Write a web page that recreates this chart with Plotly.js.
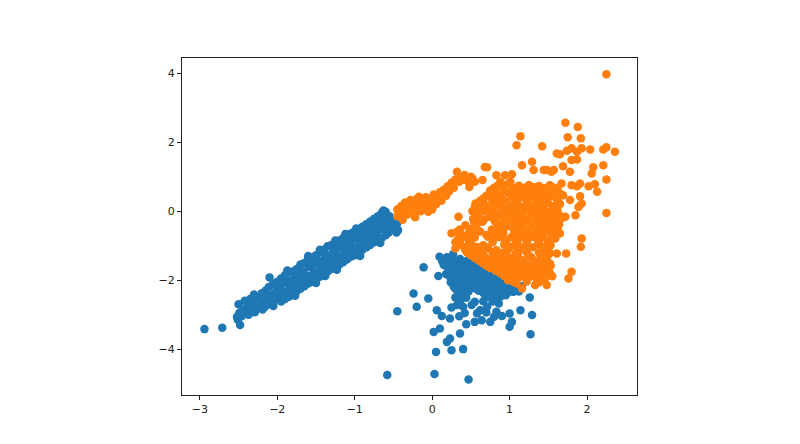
<!DOCTYPE html>
<html>
<head>
<meta charset="utf-8">
<script src="https://cdn.plot.ly/plotly-3.0.1.min.js"></script>
<style>html,body{margin:0;padding:0;background:#fff;}#chart{width:800px;height:444px;}</style>
</head>
<body>
<div id="chart"></div>
<script>
// ---- data: class 0 (blue) ----
const blueTail = [[-2.94,-3.42],[-2.71,-3.38],[-2.48,-3.30],[-2.52,-3.06]];
const blueBand = [
[-2.50,-2.70],[-2.49,-2.95],[-2.51,-3.15],
[-2.45,-2.85],[-2.46,-3.05],
[-2.42,-2.60],[-2.41,-2.88],
[-2.38,-2.75],[-2.37,-3.00],
[-2.35,-2.55],[-2.34,-2.84],
[-2.30,-2.42],[-2.31,-2.68],[-2.29,-2.93],
[-2.25,-2.55],[-2.24,-2.80],
[-2.20,-2.38],[-2.21,-2.62],[-2.19,-2.85],
[-2.15,-2.30],[-2.14,-2.55],[-2.16,-2.78],
[-2.10,-1.92],[-2.11,-2.20],[-2.09,-2.45],[-2.10,-2.70],
[-2.05,-2.10],[-2.04,-2.38],[-2.06,-2.65],
[-2.00,-2.05],[-2.01,-2.30],[-1.99,-2.55],
[-1.95,-1.95],[-1.96,-2.20],[-1.94,-2.45],[-1.95,-2.62],
[-1.90,-1.85],[-1.89,-2.10],[-1.91,-2.35],[-1.90,-2.55],
[-1.85,-1.78],[-1.86,-2.02],[-1.84,-2.28],[-1.85,-2.48],
[-1.80,-1.75],[-1.79,-1.98],[-1.81,-2.20],[-1.80,-2.40],
[-1.75,-1.68],[-1.76,-1.90],[-1.74,-2.12],[-1.75,-2.32],
[-1.70,-1.55],[-1.69,-1.82],[-1.71,-2.05],[-1.70,-2.25],
[-1.65,-1.50],[-1.66,-1.75],[-1.64,-1.98],[-1.65,-2.18],
[-1.60,-1.38],[-1.59,-1.62],[-1.61,-1.88],[-1.60,-2.10],
[-1.55,-1.35],[-1.56,-1.58],[-1.54,-1.82],[-1.55,-2.05],
[-1.50,-1.28],[-1.49,-1.50],[-1.51,-1.75],[-1.50,-1.98],
[-1.45,-1.20],[-1.46,-1.45],[-1.44,-1.68],[-1.45,-1.90],
[-1.40,-1.12],[-1.39,-1.38],[-1.41,-1.60],[-1.40,-1.82],
[-1.35,-1.02],[-1.36,-1.28],[-1.34,-1.52],[-1.35,-1.75],
[-1.30,-0.98],[-1.29,-1.22],[-1.31,-1.45],[-1.30,-1.68],
[-1.25,-0.92],[-1.26,-1.15],[-1.24,-1.38],[-1.25,-1.62],
[-1.20,-0.85],[-1.19,-1.08],[-1.21,-1.32],[-1.20,-1.55],
[-1.15,-0.78],[-1.16,-1.00],[-1.14,-1.25],[-1.15,-1.48],
[-1.10,-0.72],[-1.09,-0.95],[-1.11,-1.18],[-1.10,-1.40],
[-1.05,-0.65],[-1.06,-0.88],[-1.04,-1.10],[-1.05,-1.32],
[-1.00,-0.58],[-0.99,-0.80],[-1.01,-1.05],[-1.00,-1.28],
[-0.95,-0.52],[-0.96,-0.75],[-0.94,-0.98],[-0.95,-1.20],
[-0.90,-0.45],[-0.89,-0.68],[-0.91,-0.90],[-0.90,-1.12],
[-0.85,-0.38],[-0.86,-0.60],[-0.84,-0.82],[-0.85,-1.05],
[-0.80,-0.30],[-0.79,-0.52],[-0.81,-0.75],[-0.80,-0.98],
[-0.75,-0.22],[-0.76,-0.45],[-0.74,-0.68],[-0.75,-0.90],
[-0.70,-0.15],[-0.69,-0.38],[-0.71,-0.60],[-0.70,-0.85],
[-0.65,-0.05],[-0.66,-0.30],[-0.64,-0.52],[-0.65,-0.78],
[-0.60,-0.02],[-0.59,-0.22],[-0.61,-0.45],[-0.60,-0.70],
[-0.55,-0.15],[-0.54,-0.38],[-0.56,-0.62],
[-0.50,-0.25],[-0.49,-0.50],
[-0.45,-0.35],[-0.44,-0.55]
];
const blueEdge = [
[-1.87,-1.72],[-1.60,-1.30],[-1.25,-0.85],[-0.98,-0.50],[-0.63,0.02],[-1.45,-1.12],[-1.12,-0.66],
[-1.77,-2.45],[-1.50,-2.08],[-1.23,-1.70],[-0.93,-1.30],[-0.67,-0.92],[-0.46,-0.62],[-2.05,-2.75],[-1.38,-1.88]
];
const blueBlob = [
[-0.58,-4.75],[0.03,-4.72],[0.47,-4.88],
[0.05,-4.08],[0.25,-4.03],[0.40,-4.00],
[0.19,-3.79],[0.23,-3.69],[0.36,-3.55],[0.02,-3.50],[0.10,-3.40],
[1.27,-3.57],[1.00,-3.35],[1.03,-3.21],
[-0.45,-2.90],[-0.20,-2.77],[-0.24,-2.39],[-0.05,-2.53],
[-0.11,-1.63],[0.08,-1.88],
[0.06,-2.87],[0.125,-3.04],[0.23,-3.11],
[0.44,-3.28],[0.55,-3.21],[0.64,-3.16],[0.75,-3.21],
[0.83,-2.92],[0.86,-2.68],[0.88,-2.48],
[1.00,-2.97],[1.14,-2.87],[1.26,-2.50],[1.29,-3.01],
[1.05,-2.34],[1.14,-2.27],
[0.62,-2.87],[0.71,-2.77],[0.51,-2.72],[0.40,-2.77],[0.32,-2.72],[0.25,-2.79],
[0.095,-1.32],[0.19,-1.34],[0.27,-1.25],
[0.18,-1.40],[0.28,-1.41],[0.36,-1.39],
[0.22,-1.50],[0.32,-1.52],[0.42,-1.49],[0.50,-1.51],
[0.20,-1.62],[0.30,-1.63],[0.40,-1.61],[0.50,-1.62],[0.60,-1.60],
[0.26,-1.75],[0.36,-1.76],[0.46,-1.74],[0.56,-1.75],[0.66,-1.73],
[0.22,-1.88],[0.32,-1.89],[0.44,-1.87],[0.54,-1.88],[0.64,-1.86],[0.74,-1.88],
[0.30,-2.00],[0.40,-2.01],[0.52,-1.99],[0.62,-2.00],[0.72,-2.02],[0.84,-2.00],
[0.34,-2.12],[0.46,-2.13],[0.58,-2.11],[0.70,-2.12],[0.80,-2.10],[0.92,-2.12],[1.02,-2.14],
[0.30,-2.25],[0.42,-2.26],[0.56,-2.24],[0.68,-2.25],[0.78,-2.26],[0.90,-2.24],[1.00,-2.25],[1.10,-2.23],
[0.38,-2.38],[0.66,-2.37],[0.76,-2.39],[0.88,-2.38],[0.98,-2.36],
[0.30,-2.50],[0.44,-2.51],[0.70,-2.49],[0.80,-2.52],
[0.36,-2.62],[0.55,-2.63],[0.66,-2.61],[0.78,-2.62],
[0.42,-2.95],[0.58,-2.96],[0.70,-2.94],
[0.35,-3.05],[0.80,-3.06],[0.90,-3.04]
];
const blueFill = [
[0.13,-1.45],[0.24,-1.46],[0.45,-1.44],
[0.15,-1.56],[0.27,-1.57],[0.37,-1.55],[0.46,-1.56],[0.55,-1.57],
[0.22,-1.69],[0.33,-1.70],[0.43,-1.68],[0.53,-1.69],[0.62,-1.70],[0.71,-1.68],
[0.18,-1.82],[0.29,-1.83],[0.40,-1.81],[0.50,-1.82],[0.60,-1.83],[0.70,-1.81],[0.80,-1.82],
[0.26,-1.94],[0.37,-1.95],[0.48,-1.93],[0.58,-1.94],[0.68,-1.95],[0.79,-1.93],[0.89,-1.94],
[0.24,-2.06],[0.36,-2.07],[0.46,-2.05],[0.57,-2.06],[0.67,-2.07],[0.78,-2.05],[0.88,-2.06],[0.98,-2.07],
[0.28,-2.19],[0.40,-2.20],[0.52,-2.18],[0.63,-2.19],[0.74,-2.20],[0.86,-2.18],[0.96,-2.19],[1.06,-2.20],[1.16,-2.18],
[0.33,-2.32],[0.47,-2.33],[0.60,-2.31],[0.72,-2.32],[0.83,-2.33],[0.94,-2.31],[1.04,-2.32],[1.12,-2.33],
[0.34,-2.44],[0.74,-2.45],[0.84,-2.43],[0.95,-2.44]
];
// ---- data: class 1 (orange) ----
const orangeStreak = [
[-0.45,-0.15],[-0.45,0.05],[-0.40,-0.05],[-0.40,0.15],[-0.38,-0.25],[-0.35,0.05],[-0.35,0.25],
[-0.32,-0.10],[-0.30,0.15],[-0.28,0.32],[-0.25,-0.05],[-0.25,0.20],[-0.22,-0.18],[-0.20,0.10],
[-0.20,0.35],[-0.17,0.42],[-0.15,0.00],[-0.15,0.22],[-0.12,0.30],[-0.10,0.10],[-0.08,0.40],
[-0.05,0.18],[-0.05,-0.02],[0.00,0.30],[0.00,0.05],[0.02,0.48],[0.05,0.20],[0.08,0.38],
[0.10,0.55],[0.12,0.30],[0.15,0.62],[0.18,0.45],[0.20,0.72],[0.22,0.58],[0.25,0.82],
[0.28,0.68],[0.30,0.92],[0.32,1.14],[0.35,0.85],[0.38,1.00],[0.40,0.92],[0.42,1.05],
[0.45,0.88],[0.48,0.70],[0.50,1.00],[0.52,0.95],[0.55,0.85],[0.65,0.90],[0.68,1.28]
];
const orangeCore = [
[0.85,0.75],[0.97,0.77],[1.12,0.74],[1.25,0.76],[1.38,0.73],[1.52,0.75],
[0.75,0.60],[0.92,0.62],[1.05,0.59],[1.18,0.61],[1.30,0.58],[1.45,0.60],[1.62,0.62],
[0.70,0.45],[0.88,0.44],[1.02,0.47],[1.16,0.44],[1.29,0.46],[1.41,0.43],[1.54,0.45],
[0.62,0.30],[0.82,0.31],[0.96,0.28],[1.10,0.31],[1.23,0.29],[1.36,0.30],[1.48,0.28],[1.62,0.31],
[0.58,0.15],[0.72,0.16],[0.88,0.14],[1.03,0.16],[1.17,0.13],[1.30,0.15],[1.43,0.16],[1.57,0.14],
[0.52,0.00],[0.66,0.01],[0.80,-0.02],[0.95,0.01],[1.09,-0.01],[1.22,0.02],[1.36,0.00],[1.50,-0.02],[1.62,0.01],
[0.59,-0.14],[0.73,-0.16],[0.87,-0.15],[1.02,-0.13],[1.15,-0.16],[1.29,-0.15],[1.43,-0.14],[1.56,-0.16],[1.66,-0.15],
[0.54,-0.30],[0.65,-0.31],[0.81,-0.29],[0.95,-0.30],[1.09,-0.31],[1.23,-0.29],[1.37,-0.30],[1.50,-0.31],[1.62,-0.29],
[0.55,-0.44],[0.85,-0.45],[1.00,-0.44],[1.15,-0.46],[1.30,-0.45],[1.45,-0.44],[1.58,-0.46],
[0.32,-0.60],[0.48,-0.61],[0.62,-0.59],[0.78,-0.60],[0.92,-0.61],[1.06,-0.59],[1.20,-0.60],[1.35,-0.61],[1.48,-0.59],[1.60,-0.60],
[0.40,-0.75],[0.55,-0.76],[0.72,-0.74],[0.87,-0.75],[1.02,-0.76],[1.15,-0.74],[1.28,-0.75],[1.42,-0.76],[1.55,-0.74],
[0.30,-0.90],[0.48,-0.91],[0.78,-0.90],[0.95,-0.91],[1.10,-0.89],[1.22,-0.90],[1.38,-0.91],[1.50,-0.89],
[0.42,-1.05],[0.58,-1.04],[0.72,-1.06],[1.00,-1.04],[1.15,-1.06],[1.30,-1.05],[1.45,-1.04],
[0.45,-1.20],[0.60,-1.21],[0.78,-1.19],[0.92,-1.20],[1.08,-1.21],[1.22,-1.19],[1.38,-1.20],[1.52,-1.21],
[0.55,-1.35],[0.70,-1.36],[0.85,-1.34],[1.00,-1.35],[1.12,-1.36],[1.28,-1.34],[1.42,-1.35],
[0.65,-1.50],[0.80,-1.51],[0.95,-1.49],[1.08,-1.50],[1.20,-1.51],[1.35,-1.49],[1.50,-1.50],
[0.75,-1.65],[0.90,-1.66],[1.02,-1.64],[1.15,-1.65],[1.30,-1.66],[1.45,-1.64],
[0.88,-1.80],[1.00,-1.81],[1.12,-1.79],[1.25,-1.80],[1.38,-1.81],[1.52,-1.79],
[0.98,-1.95],[1.10,-1.96],[1.22,-1.94],[1.35,-1.95],[1.45,-1.96]
];
const orangeFill = [
[0.80,0.68],[0.92,0.69],[1.05,0.67],[1.19,0.68],[1.32,0.69],[1.45,0.67],[1.58,0.68],
[0.82,0.52],[0.98,0.53],[1.11,0.51],[1.24,0.52],[1.37,0.53],[1.52,0.51],[1.64,0.52],
[0.66,0.37],[0.76,0.38],[0.90,0.36],[1.06,0.37],[1.19,0.38],[1.33,0.36],[1.46,0.37],[1.60,0.38],
[0.56,0.22],[0.66,0.23],[0.80,0.21],[0.95,0.22],[1.09,0.23],[1.23,0.21],[1.37,0.22],[1.50,0.23],[1.65,0.21],
[0.57,0.07],[0.73,0.08],[1.01,0.06],[1.15,0.07],[1.29,0.08],[1.43,0.06],[1.56,0.07],
[0.60,-0.07],[0.74,-0.09],[0.88,-0.08],[1.02,-0.07],[1.16,-0.09],[1.29,-0.08],[1.44,-0.07],[1.57,-0.09],
[0.53,-0.22],[0.67,-0.24],[0.80,-0.23],[0.95,-0.22],[1.08,-0.24],[1.22,-0.23],[1.36,-0.22],[1.49,-0.24],[1.62,-0.23],
[0.58,-0.37],[0.88,-0.39],[1.02,-0.38],[1.16,-0.37],[1.30,-0.39],[1.44,-0.38],[1.56,-0.37],[1.64,-0.39],
[0.36,-0.53],[0.49,-0.52],[0.77,-0.53],[0.92,-0.52],[1.07,-0.54],[1.22,-0.53],[1.37,-0.52],[1.52,-0.54],[1.62,-0.53],
[0.38,-0.68],[0.55,-0.67],[0.70,-0.69],[0.84,-0.68],[1.13,-0.69],[1.27,-0.68],[1.42,-0.67],[1.55,-0.69],
[0.33,-0.83],[0.47,-0.82],[0.79,-0.83],[0.94,-0.82],[1.08,-0.84],[1.23,-0.83],[1.36,-0.82],[1.50,-0.84],
[0.36,-0.98],[0.51,-0.97],[0.66,-0.99],[0.93,-0.97],[1.07,-0.99],[1.22,-0.98],[1.37,-0.97],[1.53,-0.99],
[0.43,-1.13],[0.53,-1.12],[0.67,-1.14],[0.83,-1.13],[0.98,-1.12],[1.13,-1.14],[1.45,-1.12],
[0.50,-1.28],[0.66,-1.27],[0.80,-1.29],[0.95,-1.28],[1.10,-1.27],[1.25,-1.29],[1.40,-1.28],[1.50,-1.27],
[0.60,-1.43],[0.75,-1.42],[0.90,-1.44],[1.04,-1.43],[1.17,-1.42],[1.32,-1.44],[1.46,-1.43],
[0.70,-1.58],[0.85,-1.57],[0.99,-1.59],[1.12,-1.58],[1.25,-1.57],[1.40,-1.59],[1.53,-1.58],
[0.82,-1.73],[0.95,-1.72],[1.08,-1.74],[1.20,-1.73],[1.33,-1.72],[1.46,-1.74],
[0.93,-1.88],[1.05,-1.87],[1.17,-1.89],[1.30,-1.88],[1.42,-1.87],[1.55,-1.89],
[1.05,-2.05],[1.22,-2.04],[1.38,-2.06]
];
const orangeOutliers = [
[2.25,3.97],[1.72,2.56],[1.88,2.44],[1.75,2.14],[1.92,2.11],[1.14,2.17],[1.09,1.91],[1.42,1.88],
[1.65,1.65],[1.74,1.75],[1.80,1.82],[1.87,1.72],[1.93,1.82],[2.04,1.79],[2.21,1.79],[2.25,1.85],[2.36,1.72],[1.61,1.67],
[1.80,1.48],[1.87,1.50],[1.69,1.30],[1.78,1.14],[2.08,1.27],[2.06,1.09],[2.21,1.33],[2.25,0.92],
[2.02,0.72],[2.10,0.78],[2.13,0.56],[1.80,0.75],[1.87,0.72],[1.67,0.80],[1.91,0.80],[1.69,0.46],[1.78,0.32],[1.91,0.43],[1.93,0.22],[1.89,0.12],
[2.25,-0.05],[1.85,-0.12],[1.72,-0.16],[1.93,-0.79],[1.92,-1.03],[1.61,-1.23],[1.73,-1.23],[1.80,-1.76],[1.76,-1.95],
[1.46,-1.47],[1.48,-1.88],[1.57,1.19],[1.48,1.19],[1.67,-0.21],[1.59,-0.79],[1.65,-0.65],
[0.71,1.27],[0.83,1.04],[0.94,1.04],[1.03,1.07],[0.88,0.85],[1.01,0.85],[1.16,1.33],[1.29,1.43],[1.31,1.19],[1.44,1.19],[1.54,1.14],
[0.75,0.59],[0.83,0.70],[0.55,0.11],[0.66,0.11],[0.34,-0.16],[0.43,-0.41],[0.36,-0.89],[0.30,-1.08],[0.25,-0.64],
[1.26,-1.90],[1.42,-1.90],[1.48,-2.14],[1.33,-2.14],[0.98,-2.00],[1.09,-2.10],[1.16,-2.24],[1.52,-1.52]
];
// ---- axis ticks ----
const xTickVals = [-3,-2,-1,0,1,2];
const xTickText = ["\u22123","\u22122","\u22121","0","1","2"];
const yTickVals = [-4,-2,0,2,4];
const yTickText = ["\u22124","\u22122","0","2","4"];

const bluePts = blueTail.concat(blueBand, blueEdge, blueBlob, blueFill);
const orangePts = orangeStreak.concat(orangeCore, orangeFill, orangeOutliers);

const traces = [
  {type:'scatter', mode:'markers', x: bluePts.map(p=>p[0]), y: bluePts.map(p=>p[1]),
   marker:{color:'#1f77b4', size:8.5, line:{width:0}}, hoverinfo:'skip'},
  {type:'scatter', mode:'markers', x: orangePts.map(p=>p[0]), y: orangePts.map(p=>p[1]),
   marker:{color:'#ff7f0e', size:8.5, line:{width:0}}, hoverinfo:'skip'}
];
const axisCommon = {showgrid:false, zeroline:false, showline:true, mirror:true, linecolor:'#222', linewidth:1,
  ticks:'outside', ticklen:4, tickwidth:1, tickcolor:'#222', tickfont:{family:'DejaVu Sans', size:11, color:'#222'}};
const layout = {
  width:800, height:444, showlegend:false,
  paper_bgcolor:'#fff', plot_bgcolor:'#fff',
  margin:{l:182, r:163, t:58, b:49},
  xaxis: Object.assign({}, axisCommon, {range:[-3.23,2.645], tickvals:xTickVals, ticktext:xTickText}),
  yaxis: Object.assign({}, axisCommon, {range:[-5.33,4.44], tickvals:yTickVals, ticktext:yTickText})
};
Plotly.newPlot('chart', traces, layout, {staticPlot:true, displayModeBar:false});
</script>
</body>
</html>
